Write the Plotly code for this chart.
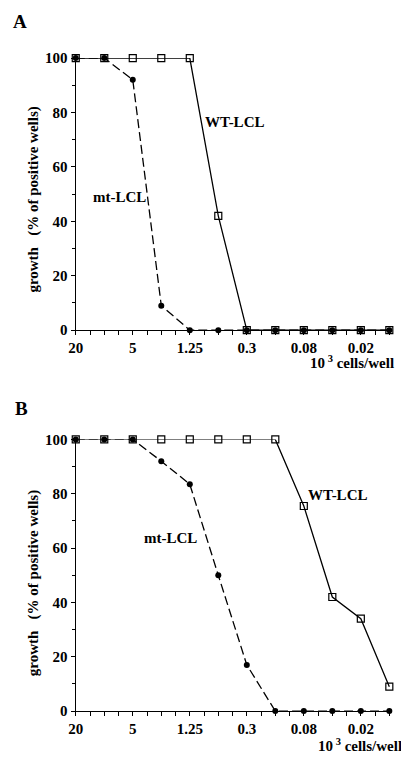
import plotly.graph_objects as go

dilutions = ["20", "10", "5", "2.5", "1.25", "0.6", "0.3", "0.15", "0.08", "0.04", "0.02", "0.01"]
tick_labels = ["20", "5", "1.25", "0.3", "0.08", "0.02"]

a_wt = [100, 100, 100, 100, 100, 42, 0, 0, 0, 0, 0, 0]
a_mt = [100, 100, 92, 9, 0, 0, 0, 0, 0, 0, 0, 0]
b_wt = [100, 100, 100, 100, 100, 100, 100, 100, 75.5, 42, 34, 9]
b_mt = [100, 100, 100, 92, 83.5, 50, 17, 0, 0, 0, 0, 0]

PAGE_W, PAGE_H, OFF = 409, 763, 8
W, H = PAGE_W - 2 * OFF, PAGE_H - 2 * OFF
FONT = "Liberation Serif"

def fx(p):
    return (p - OFF) / W

def fy(p):
    return 1 - (p - OFF) / H

xpos = list(range(len(dilutions)))
tickvals = [dilutions.index(t) for t in tick_labels]

fig = go.Figure()

def add_panel(wt, mt, xa, ya):
    fig.add_trace(go.Scatter(
        x=xpos, y=wt, mode="lines+markers", xaxis=xa, yaxis=ya,
        line=dict(color="black", width=1.3),
        marker=dict(symbol="square-open", size=7, color="black", line=dict(width=1.2)),
        cliponaxis=False, showlegend=False))
    fig.add_trace(go.Scatter(
        x=xpos, y=mt, mode="lines+markers", xaxis=xa, yaxis=ya,
        line=dict(color="black", width=1.3, dash="9px,4px"),
        marker=dict(symbol="circle", size=6, color="black"),
        cliponaxis=False, showlegend=False))

add_panel(a_wt, a_mt, "x", "y")
add_panel(b_wt, b_mt, "x2", "y2")

xdom = [fx(69), fx(392)]
def ydom(top, bottom):
    return [fy(bottom), fy(top)]

xcommon = dict(
    range=[0, 11.1], domain=xdom, showgrid=False, zeroline=False,
    showline=True, linecolor="black", linewidth=1.4,
    tickmode="array", tickvals=tickvals, ticktext=tick_labels,
    ticks="outside", ticklen=4, tickwidth=1.2, tickcolor="black",
    minor=dict(dtick=0.5, tick0=0, ticks="outside", ticklen=4, tickwidth=1.2, tickcolor="black"),
    tickfont=dict(family=FONT, size=15, color="black", weight="bold"),
)
ycommon = dict(
    range=[0, 100], showgrid=False, zeroline=False,
    showline=True, linecolor="black", linewidth=1.4,
    tickvals=[0, 20, 40, 60, 80, 100],
    ticks="outside", ticklen=4, tickwidth=1.2, tickcolor="black",
    minor=dict(dtick=10, tick0=0, ticks="outside", ticklen=3, tickwidth=1, tickcolor="black"),
    tickfont=dict(family=FONT, size=15, color="black", weight="bold"),
)

fig.update_layout(
    width=W, height=H,
    margin=dict(l=0, r=0, t=0, b=0),
    paper_bgcolor="white", plot_bgcolor="white",
    font=dict(family=FONT, color="black", weight="bold"),
    xaxis=dict(**xcommon, anchor="y"),
    yaxis=dict(**ycommon, domain=ydom(51, 329), anchor="x"),
    xaxis2=dict(**xcommon, anchor="y2"),
    yaxis2=dict(**ycommon, domain=ydom(440.7, 718.3), anchor="x2"),
)

def ann(text, px, py, size=15, xanchor="center", angle=0):
    fig.add_annotation(text=text, x=fx(px), y=fy(py), xref="paper", yref="paper",
                       showarrow=False, xanchor=xanchor, yanchor="middle", textangle=angle,
                       font=dict(family=FONT, size=size, color="black", weight="bold"))

ytitle = "growth\u00a0\u00a0\u00a0(% of positive wells)"
# Panel A
ann("A", 12, 14, size=19)
ann(ytitle, 26, 196, angle=-90)
ann("WT-LCL", 231, 116)
ann("mt-LCL", 114, 193)
ann("10<sup>\u00a03</sup> cells/well", 306, 362, xanchor="left")
# Panel B
ann("B", 14, 409, size=19)
ann(ytitle, 26, 588, angle=-90)
ann("WT-LCL", 336, 497)
ann("mt-LCL", 166, 541)
ann("10<sup>\u00a03</sup> cells/well", 314, 753, xanchor="left")

fig.write_html("out.html")
